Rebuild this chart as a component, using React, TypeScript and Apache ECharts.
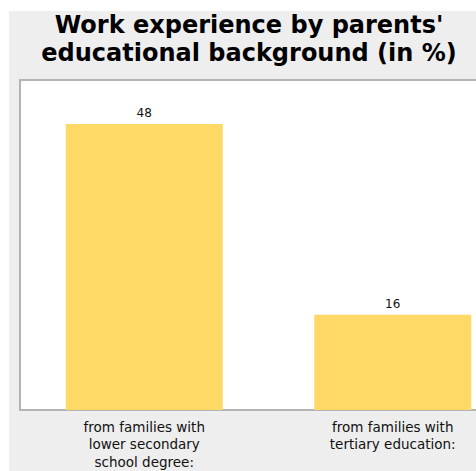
import React, { useEffect, useRef } from "react";
import * as echarts from "echarts";

const categories = [
  "from families with\nlower secondary\nschool degree:",
  "from families with\ntertiary education:",
];
const values = [48, 16];
const titleText = "Work experience by parents'\neducational background (in %)";

export default function App() {
  const ref = useRef<HTMLDivElement>(null);
  useEffect(() => {
    if (!ref.current) return;
    const chart = echarts.init(ref.current, undefined, { renderer: "svg" });
    chart.setOption({
      animation: false,
      backgroundColor: "#eeeeee",
      textStyle: { fontFamily: "DejaVu Sans" },
      graphic: [
        {
          type: "text",
          x: 240,
          y: 0,
          style: {
            text: titleText,
            font: 'bold 24px "DejaVu Sans"',
            textAlign: "center",
            textVerticalAlign: "top",
            lineHeight: 28,
            fill: "#000",
          },
        },
      ],
      grid: {
        left: 11,
        top: 69,
        width: 497,
        height: 330,
        show: true,
        backgroundColor: "#ffffff",
        borderColor: "#b4b4b4",
        borderWidth: 2,
      },
      xAxis: {
        type: "category",
        data: categories,
        axisLine: { show: false },
        axisTick: { show: false },
        axisLabel: {
          fontSize: 13.5,
          lineHeight: 17.5,
          margin: 8,
          color: "#111",
          fontFamily: "DejaVu Sans",
          interval: 0,
        },
      },
      yAxis: {
        type: "value",
        min: 0,
        max: 55.4,
        show: false,
        splitLine: { show: false },
      },
      series: [
        {
          type: "bar",
          data: values,
          barWidth: 157,
          itemStyle: { color: "#FFD966" },
          label: {
            show: true,
            position: "top",
            distance: 5,
            fontSize: 12,
            color: "#111",
            fontFamily: "DejaVu Sans",
          },
        },
      ],
    });
    return () => chart.dispose();
  }, []);
  return (
    <div
      style={{
        position: "absolute",
        left: 9,
        top: 11,
        width: 467,
        height: 460,
        overflow: "hidden",
      }}
    >
      <div ref={ref} style={{ width: 530, height: 460 }} />
    </div>
  );
}
